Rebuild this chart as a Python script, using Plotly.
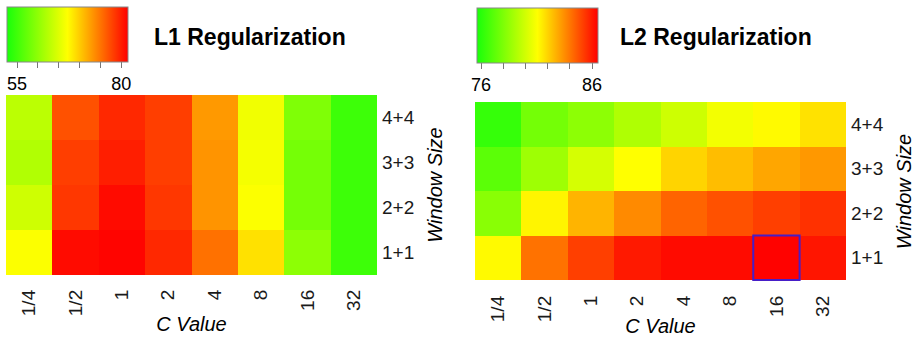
import plotly.graph_objects as go

c_values = ["1/4", "1/2", "1", "2", "4", "8", "16", "32"]
window_sizes = ["1+1", "2+2", "3+3", "4+4"]

# rows ordered bottom (1+1) to top (4+4)
l1_acc = [
    [66.9, 81.0, 81.4, 79.3, 75.2, 68.8, 59.9, 54.9],
    [64.0, 78.5, 81.0, 78.5, 73.2, 66.9, 58.4, 54.9],
    [62.2, 78.1, 79.9, 78.1, 73.2, 66.5, 58.4, 54.9],
    [62.8, 77.0, 79.3, 78.1, 72.9, 66.2, 59.0, 54.9],
]
l2_acc = [
    [81.2, 84.1, 85.2, 86.0, 86.3, 86.3, 86.5, 86.1],
    [78.3, 81.3, 82.7, 83.6, 84.4, 84.8, 85.2, 85.5],
    [77.2, 78.8, 80.1, 81.1, 82.0, 82.5, 83.0, 83.3],
    [76.3, 77.8, 78.4, 79.2, 79.9, 80.8, 81.2, 81.7],
]
l1_range = [52.6, 81.6]
l2_range = [75.64, 86.54]
l1_ticks = [55, 60, 65, 70, 75, 80]
l2_ticks = [76, 78, 80, 82, 84, 86]
highlight = ("16", "1+1")  # best L2 cell

W, H = 919, 337
FONT = "Liberation Sans, Arial, sans-serif"
cscale = [[0, "rgb(25,255,10)"], [0.5, "rgb(255,255,0)"], [1, "rgb(255,0,0)"]]


def cbar(x_px, y_px, ticks):
    return dict(
        orientation="h", x=x_px / W, xanchor="left", y=1 - y_px / H, yanchor="top",
        len=121, lenmode="pixels", thickness=55, thicknessmode="pixels",
        xpad=0, ypad=0, outlinewidth=1, outlinecolor="#888888",
        ticks="outside", ticklen=6, tickwidth=1, tickcolor="#777777",
        tickvals=ticks, ticktext=[str(ticks[0])] + [""] * (len(ticks) - 2) + [str(ticks[-1])],
        tickfont=dict(size=18, family=FONT, color="black"),
    )


fig = go.Figure()
fig.add_trace(go.Heatmap(
    z=l1_acc, x=c_values, y=window_sizes, colorscale=cscale,
    zmin=l1_range[0], zmax=l1_range[1], xaxis="x", yaxis="y",
    colorbar=cbar(7, 7, l1_ticks), hoverinfo="x+y+z",
))
fig.add_trace(go.Heatmap(
    z=l2_acc, x=c_values, y=window_sizes, colorscale=cscale,
    zmin=l2_range[0], zmax=l2_range[1], xaxis="x2", yaxis="y2",
    colorbar=cbar(477, 8, l2_ticks), hoverinfo="x+y+z",
))

hx = c_values.index(highlight[0])
hy = window_sizes.index(highlight[1])
fig.add_shape(type="rect", xref="x2", yref="y2", x0=hx - 0.5, x1=hx + 0.5,
              y0=hy - 0.5, y1=hy + 0.5, line=dict(color="rgb(70,30,200)", width=2))

tickfont = dict(size=19, family=FONT, color="#1a1a1a")
titlefont = dict(size=20, family=FONT, color="black", style="italic")


def xax(dom, anchor):
    return dict(domain=dom, anchor=anchor, type="category", tickangle=-90,
                showgrid=False, zeroline=False, showline=False, ticks="",
                automargin=False,
                ticklabelstandoff=10, tickfont=tickfont, fixedrange=True,
                title=dict(text="C Value", font=titlefont, standoff=1))


def yax(dom, anchor):
    return dict(domain=dom, anchor=anchor, type="category", side="right",
                showgrid=False, zeroline=False, showline=False, ticks="",
                automargin=False,
                ticklabelstandoff=4, tickfont=tickfont, fixedrange=True,
                title=dict(text="Window Size", font=titlefont, standoff=14))


fig.update_layout(
    width=W, height=H, margin=dict(l=0, r=0, t=0, b=0, autoexpand=False),
    paper_bgcolor="white", plot_bgcolor="white",
    font=dict(family=FONT),
    xaxis=xax([6 / W, 377 / W], "y"),
    yaxis=yax([62 / H, 242 / H], "x"),
    xaxis2=xax([475 / W, 846 / W], "y2"),
    yaxis2=yax([56 / H, 235 / H], "x2"),
    annotations=[
        dict(text="<b>L1 Regularization</b>", x=152 / W, y=1 - 37 / H, xref="paper", yref="paper",
             xanchor="left", yanchor="middle", showarrow=False,
             font=dict(size=23, family=FONT, color="black")),
        dict(text="<b>L2 Regularization</b>", x=618 / W, y=1 - 37 / H, xref="paper", yref="paper",
             xanchor="left", yanchor="middle", showarrow=False,
             font=dict(size=23, family=FONT, color="black")),
    ],
)

fig.write_html("out.html", config={"displayModeBar": False},
               post_script="document.body.style.margin='0';")
